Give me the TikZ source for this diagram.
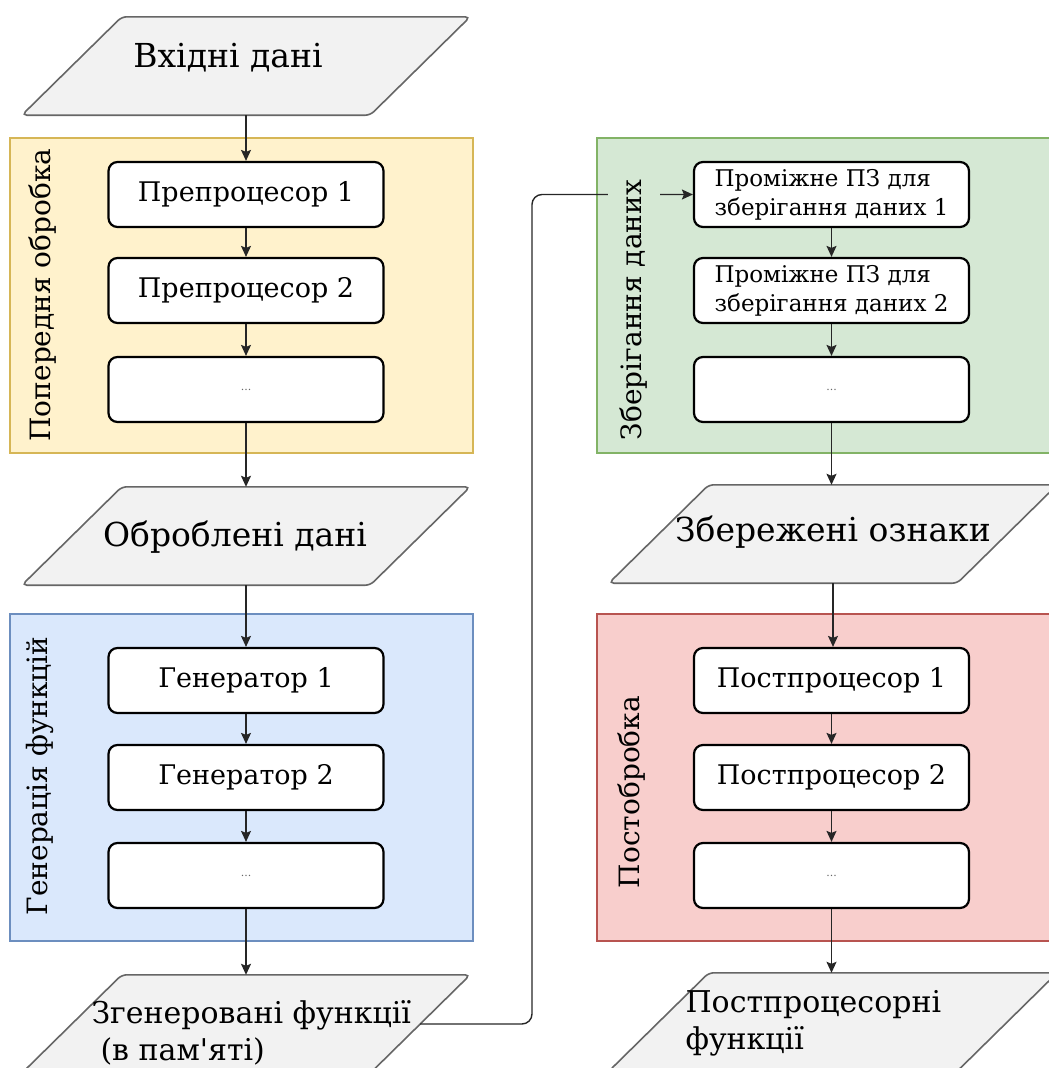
\documentclass[tikz,border=0pt]{standalone}
\usepackage{fontspec}
\setmainfont{DejaVu Serif}[Ligatures=TeXOff]
\usetikzlibrary{arrows.meta}

\definecolor{ylwfill}{HTML}{FFF2CC}\definecolor{ylwline}{HTML}{D6B656}
\definecolor{blufill}{HTML}{DAE8FC}\definecolor{bluline}{HTML}{6C8EBF}
\definecolor{grnfill}{HTML}{D5E8D4}\definecolor{grnline}{HTML}{82B366}
\definecolor{redfill}{HTML}{F8CECC}\definecolor{redline}{HTML}{B85450}
\definecolor{datfill}{HTML}{F2F2F2}\definecolor{datline}{HTML}{666666}

\newcommand{\moredots}{{\fontsize{11}{12}\selectfont\color{black!60}...}}
% slanted data shape drawn round an (invisible) node
\newcommand{\datshape}[1]{%
  \draw[dat] ([xshift=50pt]#1.north west) -- ([xshift=50pt]#1.north east)
    -- ([xshift=-50pt]#1.south east) -- ([xshift=-50pt]#1.south west) -- cycle;}

\begin{document}
\begin{tikzpicture}[x=1pt,y=-1pt,
  every node/.style={font=\fontsize{27}{32}\selectfont},
  box/.style={draw,rounded corners=9pt,line width=2.2pt,fill=white,
    minimum width=275pt,minimum height=65pt,inner sep=0pt},
  datbase/.style={minimum width=348pt,minimum height=98pt,inner sep=0pt},
  dat/.style={draw=datline,fill=datfill,line width=1.6pt,rounded corners=5pt},
  big/.style={font=\fontsize{33}{38}\selectfont},
  mid/.style={font=\fontsize{30}{37}\selectfont,align=left},
  sml/.style={font=\fontsize{23}{29}\selectfont,align=left},
  lbl/.style={rotate=90,font=\fontsize{28}{32}\selectfont,inner sep=7pt},
  ar/.style={draw=black!85,line width=1.4pt,-{Stealth[length=11pt,width=10pt,inset=2pt]}}]

\useasboundingbox (0,0) rectangle (1049,1068);
\clip (0,0) rectangle (1049,1068);

% ---- lanes ----
\draw[draw=ylwline,fill=ylwfill,line width=1.2pt] (10,138) rectangle (473,453);
\draw[draw=bluline,fill=blufill,line width=1.2pt] (10,614) rectangle (473,941);
\draw[draw=grnline,fill=grnfill,line width=1.2pt] (597,138) rectangle (1065,453);
\draw[draw=redline,fill=redfill,line width=1.2pt] (597,614) rectangle (1065,941);

% ---- left column ----
\node[datbase] (inp) at (246,66) {};
\datshape{inp}
\node[big] (inpt) at (228,58) {Вхідні дані};
\node[box] (pre1) at (246,194.5) {Препроцесор 1};
\node[box] (pre2) at (246,290.5) {Препроцесор 2};
\node[box] (pre3) at (246,389.5) {\moredots};
\node[datbase] (proc) at (246,536) {};
\datshape{proc}
\node[big] (proct) at (235,537) {Оброблені дані};
\node[box] (gen1) at (246,680.5) {Генератор 1};
\node[box] (gen2) at (246,777.5) {Генератор 2};
\node[box] (gen3) at (246,875.5) {\moredots};
\node[datbase] (genf) at (246,1024) {};
\datshape{genf}
\node[mid,anchor=west] (genft) at (88,1033) {Згенеровані функції\\\hspace*{0.3em}(в пам'яті)};

% ---- right column ----
\node[box] (pz1) at (831.5,194.5) {};
\node[sml] (pz1t) at (pz1) {Проміжне ПЗ для\\зберігання даних 1};
\node[box] (pz2) at (831.5,290.5) {};
\node[sml] (pz2t) at (pz2) {Проміжне ПЗ для\\зберігання даних 2};
\node[box] (pz3) at (831.5,389.5) {\moredots};
\node[datbase] (feat) at (833,534) {};
\datshape{feat}
\node[big] (featt) at (833,532) {Збережені ознаки};
\node[box] (post1) at (831.5,680.5) {Постпроцесор 1};
\node[box] (post2) at (831.5,777.5) {Постпроцесор 2};
\node[box] (post3) at (831.5,875.5) {\moredots};
\node[datbase] (postf) at (833,1022) {};
\datshape{postf}
\node[mid,anchor=west] (postft) at (682,1023) {Постпроцесорні\\функції};

% ---- arrows ----
\foreach \s/\t in {inp/pre1,pre1/pre2,pre2/pre3,pre3/proc,proc/gen1,gen1/gen2,gen2/gen3,gen3/genf}
  \draw[ar] (\s.south)--(\t.north);
\foreach \s/\t in {pz1/pz2,pz2/pz3,pz3/feat,feat/post1,post1/post2,post2/post3,post3/postf}
  \draw[ar] (\s.south)--(\s.south |- \t.north);
\coordinate (bend) at (532,600);
\draw[ar,rounded corners=10pt] (genf.east) -| (bend) |- (pz1.west);

% ---- lane labels ----
\node[lbl] (l1) at (43,295) {Попередня обробка};
\node[lbl] (l2) at (40,776) {Генерація функцій};
\node[lbl,fill=grnfill,inner ysep=12pt] (l3) at (634,310) {Зберігання даних};
\node[lbl] (l4) at (632,792) {Постобробка};
\end{tikzpicture}
\end{document}
